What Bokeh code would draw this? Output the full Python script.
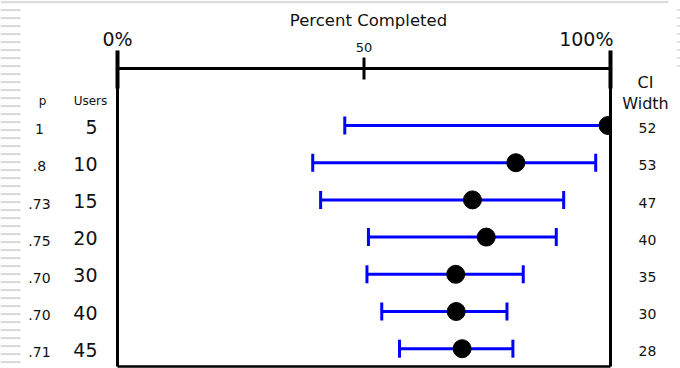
from bokeh.plotting import figure
from bokeh.models import Range1d, ColumnDataSource, Whisker, TeeHead
from bokeh.transform import dodge
from bokeh.core.properties import value
from bokeh.embed import file_html
from bokeh.resources import INLINE

# ---- data ----
users = ["5", "10", "15", "20", "30", "40", "45"]
p_values = ["1", ".8", ".73", ".75", ".70", ".70", ".71"]
ci_widths = ["52", "53", "47", "40", "35", "30", "28"]
completion = [99.5, 80.8, 72.0, 74.8, 68.6, 68.7, 69.9]
ci_lower = [46.1, 39.6, 41.2, 50.9, 50.6, 53.6, 57.2]
ci_upper = [100.0, 97.0, 90.5, 89.0, 82.3, 79.0, 80.2]
major_ticks = [0, 100]
major_tick_labels = ["0%", "100%"]
minor_ticks = [50]
minor_tick_labels = ["50"]
axis_title = "Percent Completed"
left_headers = ["p", "Users"]
right_header = ["CI", "Width"]

rows = list(range(len(users)))
src = ColumnDataSource(dict(row=rows, users=users, p=p_values, ci=ci_widths,
                            pc=completion, lo=ci_lower, hi=ci_upper))

# ---- layout (pixel placement of the scales) ----
W, H = 680, 368
X0_PX, X100_PX = 117, 610          # where 0% and 100% sit
ROW0_PX, ROW_STEP = 125, 37.2      # first row and row spacing
SX = (X100_PX - X0_PX) / 100.0


def dx(px):
    return (px - X0_PX) / SX


def dy(py):
    return (py - ROW0_PX) / ROW_STEP


FONT = value("DejaVu Sans")
BLUE = "#0000ff"
TXT = "#111111"

p = figure(width=W, height=H, x_range=Range1d(dx(0), dx(W)), y_range=Range1d(dy(H), dy(0)),
           x_axis_location=None, y_axis_location=None, min_border=0,
           output_backend="svg", toolbar_location=None)
p.grid.visible = False
p.outline_line_color = None
p.background_fill_color = "white"
p.border_fill_color = "white"

# page decoration (scanned-page edge)
deco_y = [dy(9.5 + 8 * k) for k in range(45)]
p.segment(x0=dx(0), x1=dx(20), y0=deco_y, y1=deco_y, line_color="#d9d9d9", line_width=2)
p.segment(x0=dx(676), x1=dx(680), y0=deco_y, y1=deco_y, line_color="#e3e3e3", line_width=2)
p.segment(x0=[dx(0)], x1=[dx(668)], y0=[dy(1.5)], y1=[dy(1.5)], line_color="#dddddd", line_width=2.5)

# confidence intervals
w = Whisker(source=src, base="row", lower="lo", upper="hi", dimension="width",
            line_color=BLUE, line_width=3,
            lower_head=TeeHead(size=18, line_color=BLUE, line_width=3),
            upper_head=TeeHead(size=18, line_color=BLUE, line_width=3))
p.add_layout(w)

# completion rates
p.scatter("pc", "row", source=src, size=18, color="black")

# mask anything beyond 100%
p.quad(left=[major_ticks[-1]], right=[dx(W)], top=[dy(68)], bottom=[dy(366)],
       fill_color="white", line_color=None)

# top axis (drawn through the scales)
axis_y = dy(68)
p.segment(x0=[major_ticks[0]], x1=[major_ticks[-1]], y0=[axis_y], y1=[axis_y],
          line_color="black", line_width=3)
p.segment(x0=major_ticks, x1=major_ticks, y0=dy(50), y1=dy(88), line_color="black", line_width=4)
p.segment(x0=minor_ticks, x1=minor_ticks, y0=dy(57), y1=dy(79), line_color="black", line_width=3)
# box
p.segment(x0=major_ticks, x1=major_ticks, y0=axis_y, y1=dy(366), line_color="black", line_width=3)
p.segment(x0=[major_ticks[0]], x1=[major_ticks[-1]], y0=[dy(366)], y1=[dy(366)],
          line_color="black", line_width=2.5)

# axis texts
p.text(x=[major_ticks[0]], y=[dy(38.5)], text=[major_tick_labels[0]], text_align="center",
       text_baseline="middle", text_font=FONT, text_font_size="19px", text_color=TXT)
p.text(x=[major_ticks[1]], y=[dy(38.5)], text=[major_tick_labels[1]], text_align="right",
       text_baseline="middle", text_font=FONT, text_font_size="19px", text_color=TXT, x_offset=3)
p.text(x=minor_ticks, y=[dy(47)], text=minor_tick_labels, text_align="center",
       text_baseline="middle", text_font=FONT, text_font_size="13px", text_color=TXT)
p.text(x=[dx(368)], y=[dy(20)], text=[axis_title], text_align="center",
       text_baseline="middle", text_font=FONT, text_font_size="16.5px", text_color=TXT)

# column headers
p.text(x=[dx(42), dx(90)], y=[dy(100), dy(100)], text=left_headers, text_align="center",
       text_baseline="middle", text_font=FONT, text_font_size="12px", text_color=TXT)
p.text(x=[dx(645), dx(645)], y=[dy(82), dy(103)], text=right_header, text_align="center",
       text_baseline="middle", text_font=FONT, text_font_size="16px", text_color=TXT)

# row labels
p.text(x=dx(39), y=dodge("row", 0.1), text="p", source=src, text_align="center",
       text_baseline="middle", text_font=FONT, text_font_size="14px", text_color=TXT)
p.text(x=dx(97), y=dodge("row", 0.03), text="users", source=src, text_align="right",
       text_baseline="middle", text_font=FONT, text_font_size="19px", text_color=TXT)
p.text(x=dx(647), y=dodge("row", 0.07), text="ci", source=src, text_align="center",
       text_baseline="middle", text_font=FONT, text_font_size="14px", text_color=TXT)

open("out.html", "w").write(file_html(p, INLINE))
